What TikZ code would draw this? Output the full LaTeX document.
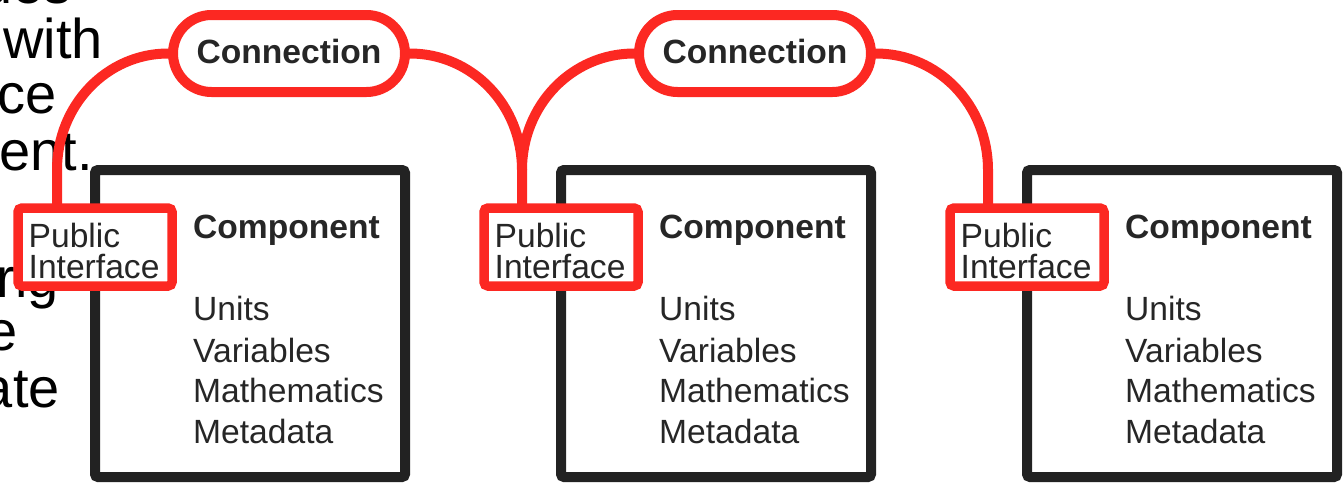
\documentclass[tikz,border=0pt]{standalone}
\usepackage{fontspec}
\usetikzlibrary{backgrounds}
\setmainfont{Liberation Sans}
\definecolor{linkred}{RGB}{252,40,34}
\definecolor{boxgray}{RGB}{34,34,34}
\definecolor{textgray}{RGB}{38,38,38}
\tikzset{
  frag/.style={anchor=base east, inner sep=0pt, text=black,
    font=\fontsize{56}{56}\selectfont},
  compbox/.style={draw=boxgray, line width=10pt, rounded corners=3pt,
    minimum width=310pt, minimum height=307pt, inner sep=0pt, outer sep=0pt},
  iface/.style={draw=linkred, fill=white, line width=9.5pt, rounded corners=4pt,
    minimum width=154pt, minimum height=78pt, inner sep=0pt, outer sep=0pt},
  conn/.style={draw=linkred, fill=white, line width=10pt, rounded corners=38.5pt,
    minimum width=232pt, minimum height=77pt, inner sep=0pt, outer sep=0pt,
    text height=19pt, text depth=0pt, text=textgray,
    font=\fontsize{33.6}{33.6}\selectfont\bfseries},
  link/.style={draw=linkred, line width=10pt},
  txt/.style={anchor=base west, inner sep=0pt, text=textgray,
    font=\fontsize{33.6}{33.6}\selectfont},
  ttl/.style={txt, font=\fontsize{33.6}{33.6}\selectfont\bfseries}
}
\begin{document}
\begin{tikzpicture}[x=1pt, y=-1pt]
\useasboundingbox (0,0) rectangle (1344,482);

% components
\foreach \i in {1,2,3} {
  \pgfmathsetmacro{\dx}{466*(\i-1)}
  \node[compbox] (comp\i) at (250+\dx,323.5) {};
  \node[ttl] (title\i) at (193+\dx,238) {Component};
  \node[txt] (units\i) at (193+\dx,320) {Units};
  \node[txt] (vars\i) at (193+\dx,362) {Variables};
  \node[txt] (math\i) at (193+\dx,402) {Mathematics};
  \node[txt] (meta\i) at (193+\dx,443) {Metadata};
}

% connection pills
\node[conn] (c1) at (289,53.5) {Connection};
\node[conn] (c2) at (755,53.5) {Connection};

% knees where the links turn straight down to the interfaces
\coordinate (k1) at (57,170);
\coordinate (k2) at (522,170);
\coordinate (k3) at (988,170);

% public interfaces
\foreach \i in {1,2,3} {
  \pgfmathsetmacro{\dx}{466*(\i-1)}
  \node[iface] (pi\i) at (95+\dx,247) {};
  \node[txt] (pub\i) at (28.5+\dx,247) {Public};
  \node[txt] (int\i) at (28.5+\dx,278) {Interface};
}

\begin{pgfonlayer}{background}
  % ends of the lines of the paragraph on the left
  \node[frag] (f1) at (72,3) {ues};
  \node[frag] (f2) at (103,58) {with};
  \node[frag] (f3) at (57,113) {ce};
  \node[frag] (f4) at (93,170) {ent.};
  \node[frag] (f5) at (59,297) {rig};
  \node[frag] (f6) at (18,350) {e};
  \node[frag] (f7) at (60,407) {ate};

  % links
  \draw[link] (c1.west) -- +(-5,0) .. controls +(-61,0) and +(0,-65) .. (k1) -- (k1 |- pi1.north);
  \draw[link] (c1.east) -- +(5,0) .. controls +(62,0) and +(0,-65) .. (k2) -- (k2 |- pi2.north);
  \draw[link] (c2.west) -- +(-5,0) .. controls +(-62,0) and +(0,-65) .. (k2);
  \draw[link] (c2.east) -- +(5,0) .. controls +(62,0) and +(0,-65) .. (k3) -- (k3 |- pi3.north);
\end{pgfonlayer}
\end{tikzpicture}
\end{document}
